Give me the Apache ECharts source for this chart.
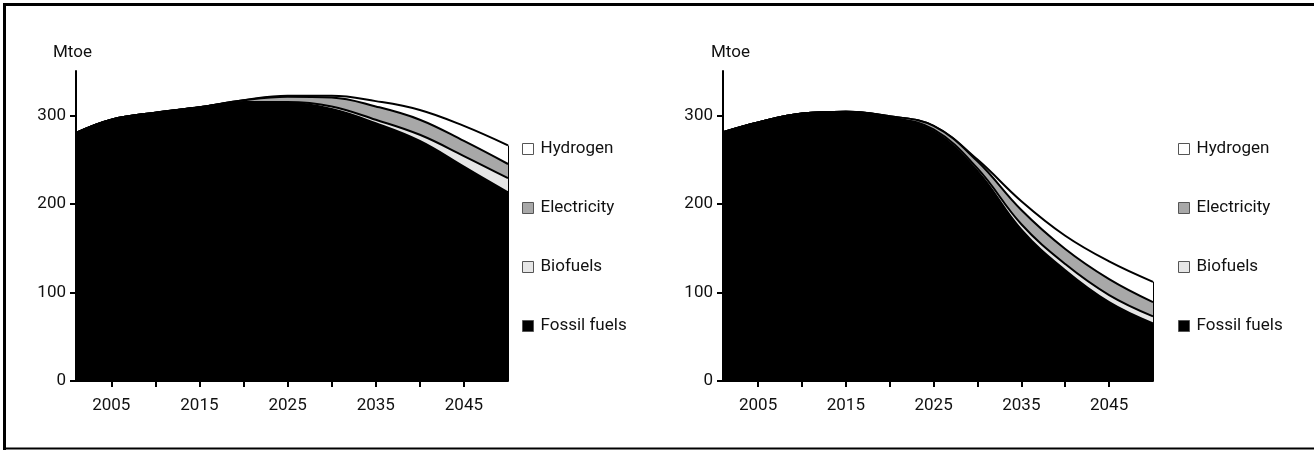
<!DOCTYPE html>
<html>
<head>
<meta charset="utf-8">
<script src="https://cdn.jsdelivr.net/npm/echarts@6/dist/echarts.min.js"></script>
<style>
  html, body { margin: 0; padding: 0; background: #fff; }
  #chart { width: 1314px; height: 450px; }
</style>
</head>
<body>
<div id="chart"></div>
<script>
// Road-transport final energy demand by fuel, Mtoe
const years = [2001, 2005, 2010, 2015, 2020, 2025, 2030, 2035, 2040, 2045, 2050];

// Left panel
const fossilA = [280, 295, 303, 309, 314, 314, 307, 291, 271, 242, 213];
const bioA    = [0, 0, 0, 0, 1, 1, 3, 4, 7, 12, 16];
const elecA   = [0, 0, 0, 0, 2, 6, 10, 15, 17, 17, 16];
const hydroA  = [0, 0, 0, 0, 0, 1, 2, 6, 11, 17, 21];

// Right panel
const fossilB = [281, 292, 302, 304, 297, 282, 237, 171, 125, 89, 65];
const bioB    = [0, 0, 0, 0, 1, 2, 3, 6, 7, 8, 8];
const elecB   = [0, 0, 0, 0, 1, 4, 8, 16, 17, 18, 16];
const hydroB  = [0, 0, 0, 0, 0, 0, 2, 10, 15, 20, 23];

const fuelNames = ['Fossil fuels', 'Biofuels', 'Electricity', 'Hydrogen'];
const fuelColors = ['#000000', '#e6e6e6', '#a8a8a8', '#ffffff'];
const legendOrder = ['Hydrogen', 'Electricity', 'Biofuels', 'Fossil fuels'];

const tickYears = [2005, 2010, 2015, 2020, 2025, 2030, 2035, 2040, 2045];
const labelYears = [2005, 2015, 2025, 2035, 2045];
const yTicks = [0, 100, 200, 300];

const FONT = "Roboto, 'Liberation Sans', sans-serif";
const FS = 17;
const TXT = '#111111';

// Each layer is drawn as the running total of itself and the layers below it;
// lower layers sit on top (higher z) so every band shows only its own share.
function panelSeries(gridIdx, layers) {
  const cum = [];
  let run = years.map(() => 0);
  layers.forEach(vals => {
    run = run.map((r, i) => r + vals[i]);
    cum.push(run.slice());
  });
  const lastYear = years[years.length - 1];
  const total = cum[cum.length - 1][years.length - 1];
  return layers.map((vals, k) => {
    const s = {
      name: fuelNames[k],
      type: 'line',
      xAxisIndex: gridIdx,
      yAxisIndex: gridIdx,
      data: years.map((y, i) => [y, cum[k][i]]),
      smooth: 0.4,
      showSymbol: false,
      symbol: 'none',
      color: fuelColors[k],
      itemStyle: { color: fuelColors[k] },
      lineStyle: { color: '#000', width: 2 },
      areaStyle: { color: fuelColors[k], opacity: 1, origin: 'start' },
      emphasis: { disabled: true },
      silent: true,
      z: 10 - k
    };
    if (k === layers.length - 1) {
      // closing edge of the stack at the last year
      s.markLine = {
        silent: true,
        symbol: 'none',
        label: { show: false },
        lineStyle: { color: '#000', width: 2, type: 'solid' },
        data: [[{ coord: [lastYear, 0] }, { coord: [lastYear, total] }]]
      };
    }
    return s;
  });
}

function xAxis(gridIdx) {
  return {
    type: 'value', gridIndex: gridIdx, min: 2001, max: 2050,
    axisLine: { show: true, lineStyle: { color: '#000', width: 2 } },
    axisTick: { show: true, customValues: tickYears, length: 6, lineStyle: { color: '#000', width: 2 } },
    axisLabel: { customValues: labelYears, margin: 16, fontSize: FS, fontFamily: FONT, color: TXT,
                 formatter: v => String(v) },
    splitLine: { show: false }
  };
}

function yAxis(gridIdx) {
  return {
    type: 'value', gridIndex: gridIdx, min: 0, max: 350,
    axisLine: { show: true, lineStyle: { color: '#000', width: 2 } },
    axisTick: { show: true, customValues: yTicks, length: 6, lineStyle: { color: '#000', width: 2 } },
    axisLabel: { customValues: yTicks, margin: 10, fontSize: FS, fontFamily: FONT, color: TXT },
    splitLine: { show: false }
  };
}

function legend(leftPx) {
  return {
    orient: 'vertical',
    left: leftPx, top: 134,
    data: legendOrder,
    icon: 'rect',
    itemWidth: 11, itemHeight: 11,
    itemGap: 39,
    selectedMode: false,
    itemStyle: { borderColor: '#555', borderWidth: 1 },
    textStyle: { fontSize: FS, fontFamily: FONT, color: TXT, lineHeight: 20, padding: [0, 0, 0, 2] }
  };
}

const chart = echarts.init(document.getElementById('chart'), null, { renderer: 'canvas' });

chart.setOption({
  backgroundColor: '#fff',
  animation: false,
  grid: [
    { left: 76, top: 71, width: 432, height: 310 },
    { left: 723, top: 71, width: 430, height: 310 }
  ],
  xAxis: [xAxis(0), xAxis(1)],
  yAxis: [yAxis(0), yAxis(1)],
  legend: [legend(517), legend(1173)],
  series: [
    ...panelSeries(0, [fossilA, bioA, elecA, hydroA]),
    ...panelSeries(1, [fossilB, bioB, elecB, hydroB])
  ],
  graphic: [
    { type: 'line', shape: { x1: 3, y1: 4.5, x2: 1314, y2: 4.5 }, style: { stroke: '#000', lineWidth: 3 } },
    { type: 'line', shape: { x1: 4.5, y1: 3, x2: 4.5, y2: 450 }, style: { stroke: '#000', lineWidth: 3 } },
    { type: 'line', shape: { x1: 3, y1: 448.5, x2: 1314, y2: 448.5 }, style: { stroke: '#000', lineWidth: 2 } },
    { type: 'text', left: 53, top: 44, style: { text: 'Mtoe', fontSize: FS, fontFamily: FONT, fill: TXT } },
    { type: 'text', left: 711, top: 44, style: { text: 'Mtoe', fontSize: FS, fontFamily: FONT, fill: TXT } }
  ]
});
</script>
</body>
</html>
